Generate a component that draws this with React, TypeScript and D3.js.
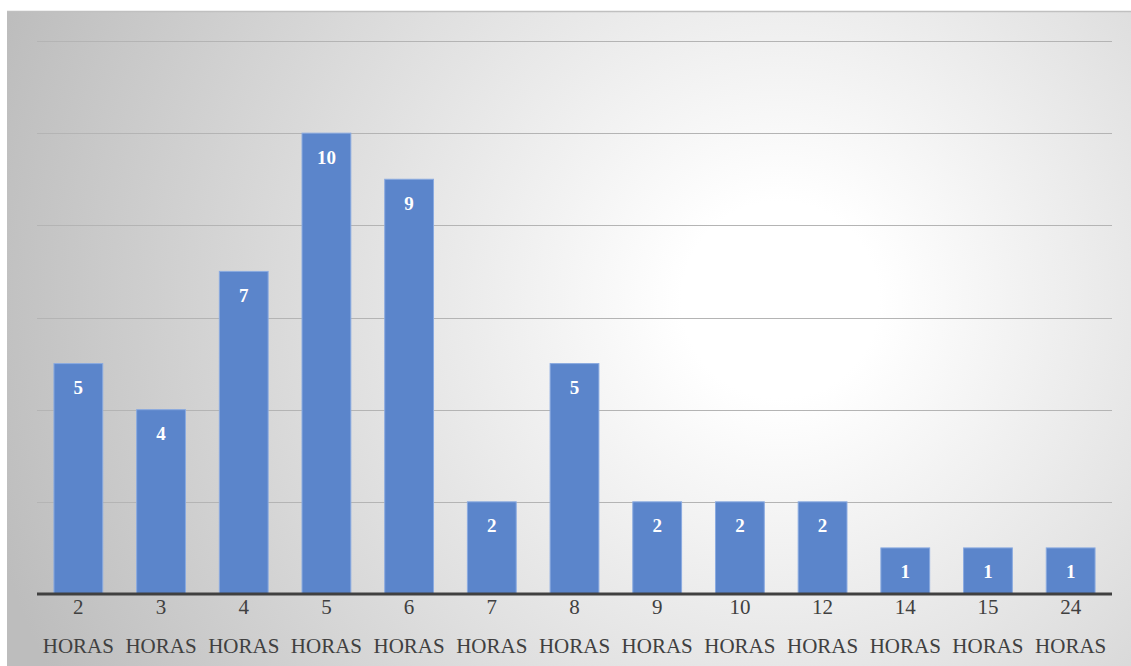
import React from "react";
import * as d3 from "d3";

const categories = ["2", "3", "4", "5", "6", "7", "8", "9", "10", "12", "14", "15", "24"];
const unitLabel = "HORAS";
const values = [5, 4, 7, 10, 9, 2, 5, 2, 2, 2, 1, 1, 1];
const yTicks = [0, 2, 4, 6, 8, 10, 12];

const W = 1131;
const H = 666;
const plot = { left: 37, right: 1112, top: 41, bottom: 594 };
const SERIF = "Liberation Serif, Times New Roman, serif";

export default function App() {
  const x = d3
    .scaleBand<string>()
    .domain(categories)
    .range([plot.left, plot.right])
    .paddingInner(0.41)
    .paddingOuter(0.205);
  const y = d3.scaleLinear().domain([0, 12]).range([plot.bottom, plot.top]);

  return (
    <svg
      width={W}
      height={H}
      style={{ position: "absolute", left: 0, top: 0, fontFamily: SERIF }}
    >
      <defs>
        <radialGradient id="bg" gradientUnits="userSpaceOnUse" cx={780} cy={300} r={820}>
          <stop offset="0" stopColor="#ffffff" />
          <stop offset="0.12" stopColor="#ffffff" />
          <stop offset="1" stopColor="#bdbdbd" />
        </radialGradient>
      </defs>
      <rect x={0} y={0} width={W} height={H} fill="#ffffff" />
      <rect x={7} y={11} width={W - 7} height={H - 11} fill="url(#bg)" />
      <line x1={7} x2={W} y1={11.5} y2={11.5} stroke="#c0c0c0" strokeWidth={1.5} />
      {yTicks
        .filter((t) => t > 0)
        .map((t) => (
          <line
            key={t}
            x1={plot.left}
            x2={plot.right}
            y1={Math.round(y(t)) + 0.5}
            y2={Math.round(y(t)) + 0.5}
            stroke="#b4b4b4"
            strokeWidth={1}
          />
        ))}
      {values.map((v, i) => {
        const c = categories[i];
        const bx = x(c)!;
        const by = y(v);
        return (
          <g key={c}>
            <rect
              x={bx}
              y={by}
              width={x.bandwidth()}
              height={plot.bottom - by}
              fill="#5b85cb"
              stroke="#8aaae0"
              strokeWidth={1}
            />
            <text
              x={bx + x.bandwidth() / 2}
              y={by + 24}
              textAnchor="middle"
              dominantBaseline="central"
              fill="#ffffff"
              fontWeight="bold"
              fontSize={19}
              style={{ fontFamily: SERIF }}
            >
              {v}
            </text>
          </g>
        );
      })}
      <line x1={plot.left} x2={plot.right} y1={plot.bottom} y2={plot.bottom} stroke="#404040" strokeWidth={3} />
      {categories.map((c) => {
        const cx = x(c)! + x.bandwidth() / 2;
        return (
          <g key={c} fill="#404040" fontSize={21} style={{ fontFamily: SERIF }}>
            <text x={cx} y={614} textAnchor="middle">
              {c}
            </text>
            <text x={cx} y={653} textAnchor="middle">
              {unitLabel}
            </text>
          </g>
        );
      })}
    </svg>
  );
}
